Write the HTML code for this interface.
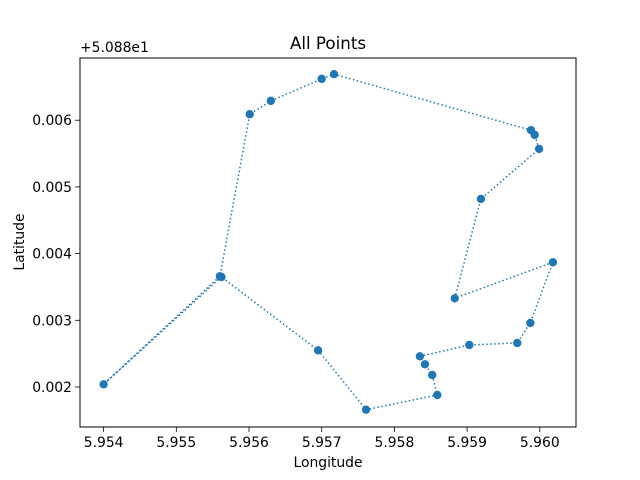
<!DOCTYPE html>
<html><head><meta charset="utf-8"><style>
body{margin:0;background:#fff}
svg{display:block;font-family:"DejaVu Sans","Liberation Sans",sans-serif}
</style></head><body>
<svg id="chart" width="640" height="480" viewBox="0 0 640 480">
<rect width="640" height="480" fill="#fff"/>
<text x="328" y="49" font-size="16.7" text-anchor="middle">All Points</text>
<text x="80" y="52" font-size="13.9">+5.088e1</text>
<text x="328" y="467" font-size="13.9" text-anchor="middle">Longitude</text>
<text x="24" y="242" font-size="13.9" text-anchor="middle" transform="rotate(-90 24 242)">Latitude</text>
<g id="ticks"></g>
<g id="marks"></g>
<rect x="80" y="58" width="496" height="369" fill="none" stroke="#000" stroke-width="1"/>
</svg>
<script>
const lon = [5.95562,5.95400,5.95560,5.95601,5.95630,5.95700,5.95717,5.95988,5.95993,5.95999,5.95919,5.95883,5.96018,5.95987,5.95969,5.95903,5.95835,5.95842,5.95852,5.95859,5.95761,5.95695,5.95562];
const lat = [0.00365,0.00204,0.00366,0.00609,0.00629,0.00662,0.00669,0.00585,0.00578,0.00557,0.00482,0.00333,0.00387,0.00296,0.00266,0.00263,0.00246,0.00234,0.00218,0.00188,0.00166,0.00255,0.00365];
const xTicks = [5.954,5.955,5.956,5.957,5.958,5.959,5.960];
const yTicks = [0.002,0.003,0.004,0.005,0.006];
const NS="http://www.w3.org/2000/svg";
const X0=80,X1=576,Y0=427,Y1=58;
const xmin=5.953675,xmax=5.960498,ymin=0.0014,ymax=0.006933;
function sx(v){return X0+(v-xmin)/(xmax-xmin)*(X1-X0);}
function sy(v){return Y0-(v-ymin)/(ymax-ymin)*(Y0-Y1);}
function mk(t,a,p){const e=document.createElementNS(NS,t);for(const k in a)e.setAttribute(k,a[k]);p.appendChild(e);return e;}
const tg=document.getElementById('ticks'), mg=document.getElementById('marks');
xTicks.forEach(v=>{const x=sx(v);
 const l=mk('line',{x1:x,x2:x,y1:Y0,y2:Y0+4.9,stroke:'#000','stroke-width':0.8},tg);
 
 
 const t=mk('text',{x:x,y:Y0+20,'font-size':13.9,'text-anchor':'middle'},tg);t.textContent=v.toFixed(3);
 
 
});
yTicks.forEach(v=>{const y=sy(v);
 const l=mk('line',{x1:X0-4.9,x2:X0,y1:y,y2:y,stroke:'#000','stroke-width':0.8},tg);
 
 
 const t=mk('text',{x:X0-8,y:y+5,'font-size':13.9,'text-anchor':'end'},tg);t.textContent=v.toFixed(3);
 
 
});
const pts=lon.map((v,i)=>sx(v)+','+sy(lat[i])).join(' ');
const pl=mk('polyline',{points:pts,fill:'none',stroke:'#1f77b4','stroke-width':1.5,'stroke-dasharray':'1.5,2.5'},mg);


lon.forEach((v,i)=>{
 const c=mk('circle',{cx:sx(v),cy:sy(lat[i]),r:4.2,fill:'#1f77b4'},mg);
 
 
});
</script>
</body></html>
